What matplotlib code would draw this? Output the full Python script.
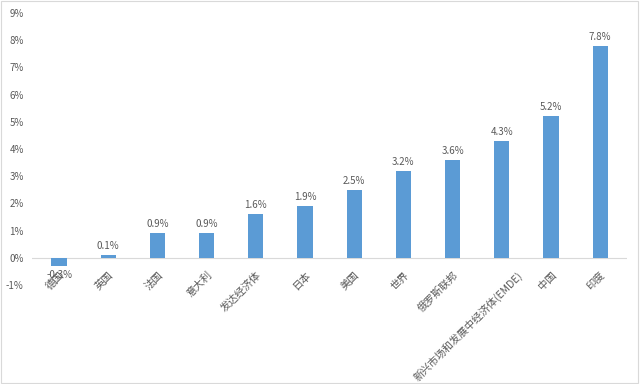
import matplotlib
matplotlib.use("Agg")
import matplotlib.pyplot as plt
from matplotlib.patches import Rectangle
from matplotlib.transforms import ScaledTranslation

plt.rcParams['font.family'] = ['Noto Sans CJK SC', 'DejaVu Sans']

# ---------------------------------------------------------------------------
# Data
# ---------------------------------------------------------------------------
regions = ["德国", "英国", "法国", "意大利", "发达经济体", "日本", "美国", "世界",
           "俄罗斯联邦", "新兴市场和发展中经济体(EMDE)", "中国", "印度"]
growth = [-0.3, 0.1, 0.9, 0.9, 1.6, 1.9, 2.5, 3.2, 3.6, 4.3, 5.2, 7.8]
labels = ["-0.3%", "0.1%", "0.9%", "0.9%", "1.6%", "1.9%", "2.5%", "3.2%",
          "3.6%", "4.3%", "5.2%", "7.8%"]
yticks = list(range(-1, 10))

BAR = "#5B9BD5"
TXT = "#595959"

fig = plt.figure(figsize=(6.4, 3.84), dpi=100)
ax = fig.add_axes([0.05, 0.258, 0.93, 0.708])

x = list(range(len(regions)))
ax.bar(x, growth, width=0.31, color=BAR, zorder=3)
for xi, v, lab in zip(x, growth, labels):
    off = 0.15 if v >= 0 else -0.15
    ax.text(xi, v + off, lab, ha="center", va="bottom" if v >= 0 else "top",
            fontsize=7, color=TXT, zorder=4)

ax.set_xlim(-0.55, len(regions) - 0.45)
ax.set_ylim(-1, 9)
ax.set_yticks(yticks)
ax.set_yticklabels([f"{t}%" for t in yticks], fontsize=7, color=TXT)
ax.set_xticks(x)
ax.set_xticklabels(regions, rotation=45, ha="right", rotation_mode="anchor",
                   fontsize=7.5, color=TXT)
ax.tick_params(axis="both", length=0)
ax.tick_params(axis="x", pad=-11)
ax.tick_params(axis="y", pad=6)

# long label sits a bit to the right in the original
for t in ax.get_xticklabels():
    t.set_zorder(5)
    if "EMDE" in t.get_text():
        t.set_transform(t.get_transform() + ScaledTranslation(0.15, 0, fig.dpi_scale_trans))

for s in ["top", "right", "left", "bottom"]:
    ax.spines[s].set_visible(False)
ax.axhline(0, color="#D9D9D9", linewidth=0.8, zorder=2)

fig.patches.append(Rectangle((0.002, 0.003), 0.995, 0.994, transform=fig.transFigure,
                             fill=False, edgecolor="#D9D9D9", linewidth=0.8))

fig.savefig("out.png", dpi=100)
